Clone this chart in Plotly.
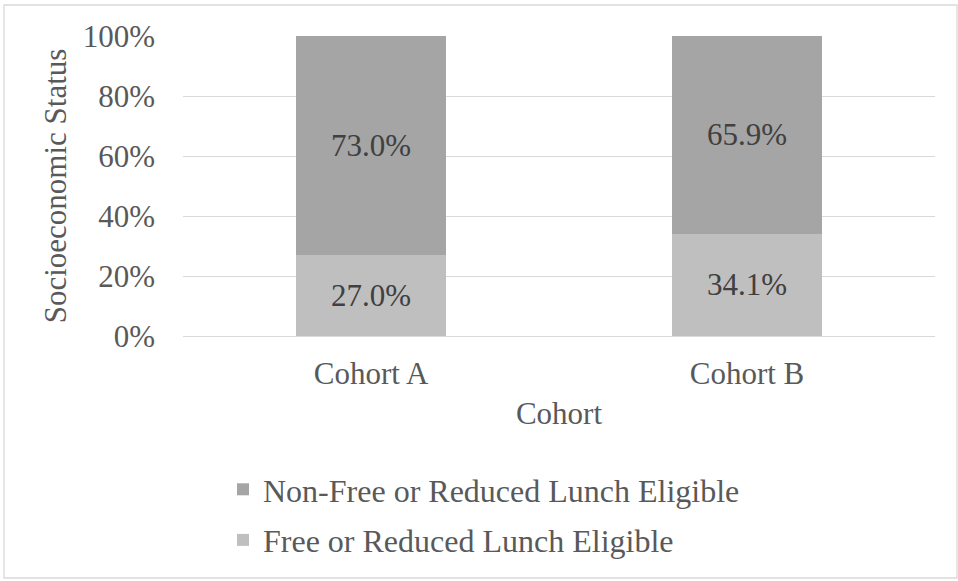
import plotly.graph_objects as go

cohorts = ["Cohort A", "Cohort B"]
free_reduced = [0.270, 0.341]
non_free_reduced = [0.730, 0.659]

W, H = 958, 581
L, R, T, B = 183, 23, 36, 245
pw, ph = W - L - R, H - T - B

font_family = "Liberation Serif, Times New Roman, serif"
fs = 31
legend_fs = 32
text_grey = "#595959"
label_grey = "#404040"

fig = go.Figure()
fig.add_trace(go.Bar(
    x=cohorts, y=free_reduced, name="Free or Reduced Lunch Eligible",
    legendgroup="frl", legendrank=2,
    marker=dict(color="#BFBFBF", line=dict(width=0)),
    text=[f"{v*100:.1f}%" for v in free_reduced],
    textposition="inside", insidetextanchor="middle",
    textfont=dict(family=font_family, size=fs, color=label_grey),
))
fig.add_trace(go.Bar(
    x=cohorts, y=non_free_reduced, name="Non-Free or Reduced Lunch Eligible",
    legendgroup="nfrl", legendrank=1,
    marker=dict(color="#A5A5A5", line=dict(width=0)),
    text=[f"{v*100:.1f}%" for v in non_free_reduced],
    textposition="inside", insidetextanchor="middle",
    textfont=dict(family=font_family, size=fs, color=label_grey),
))

# outer chart border
def px_x(x):
    return (x - L) / pw

def px_y(y):
    return (H - B - y) / ph

fig.add_shape(type="rect", xref="paper", yref="paper",
              x0=px_x(4), x1=px_x(957), y0=px_y(578), y1=px_y(5),
              line=dict(color="#D9D9D9", width=1.3), layer="below")

fig.update_layout(
    width=W, height=H,
    margin=dict(l=L, r=R, t=T, b=B, autoexpand=False),
    paper_bgcolor="white", plot_bgcolor="white",
    barmode="stack", bargap=0.6,
    font=dict(family=font_family, size=fs, color=text_grey),
    uniformtext=dict(minsize=fs, mode="show"),
    xaxis=dict(
        automargin=False,
        showgrid=False, showline=False, ticks="", ticklabelstandoff=16,
        tickfont=dict(size=fs, color=text_grey),
        title=dict(text="Cohort", font=dict(size=fs, color=text_grey), standoff=12),
    ),
    yaxis=dict(
        automargin=False,
        range=[0, 1], dtick=0.2, tickformat=".0%",
        showgrid=True, gridcolor="#D9D9D9", gridwidth=1.3,
        zeroline=True, zerolinecolor="#D9D9D9", zerolinewidth=1.3,
        showline=False, ticks="", ticklabelstandoff=27,
        tickfont=dict(size=fs, color=text_grey),
        title=dict(text="Socioeconomic Status", font=dict(size=fs, color=text_grey), standoff=6),
    ),
    showlegend=True,
    legend=dict(
        orientation="v", traceorder="grouped", tracegroupgap=6,
        x=px_x(223), xanchor="left", y=px_y(462), yanchor="top",
        font=dict(size=legend_fs, color=text_grey),
        bgcolor="rgba(0,0,0,0)", itemwidth=30,
    ),
)

fig.write_html("out.html")
